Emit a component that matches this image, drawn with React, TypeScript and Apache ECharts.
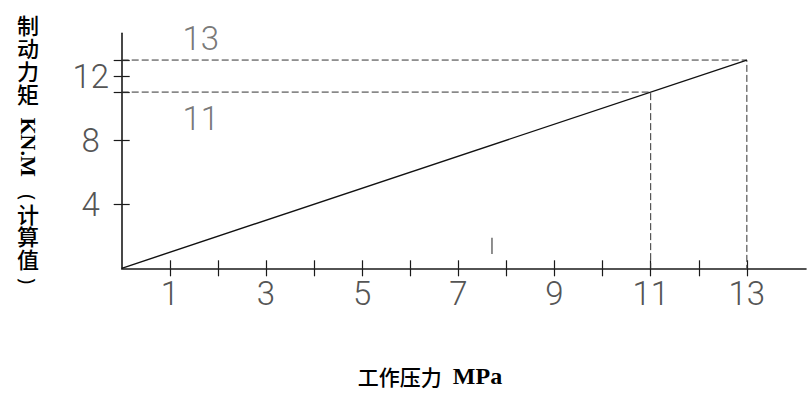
import React, { useEffect, useRef } from "react";
import * as echarts from "echarts";

// Axis tick / label positions
const xTickValues = [1, 2, 3, 4, 5, 6, 7, 8, 9, 10, 11, 12, 13];
const xLabelValues = [1, 3, 5, 7, 9, 11, 13];
const yTickValues = [4, 8, 11, 12, 13];
const yLabelValues = [4, 8, 12];

// Braking torque (KN.M) vs working pressure (MPa)
const brakeLine = [
  [0, 0],
  [13, 13],
];
// Rated working points: [pressure, torque]
const ratedPoints = [
  [13, 13],
  [11, 11],
];
// Small stand-alone mark above the pressure axis
const tickMark = [
  [7.7, 0.9],
  [7.7, 1.9],
];

const yTitleTop = ["制", "动", "力", "矩"];
const yTitleUnit = "KN.M";
const yTitleBottom = ["计", "算", "值"];
const xTitleCn = "工作压力";
const xTitleUnit = "MPa";

const X_MAX = 14.23;
const Y_MAX = 14.67;

const numFont = {
  fontFamily: "Roboto",
  fontWeight: 300 as any,
  fontSize: 33,
  color: "#555",
};

const CN_FONT = '"Noto Sans CJK SC", "Noto Sans", sans-serif';
const SERIF_FONT = '"Liberation Serif", "Times New Roman", serif';

function centeredText(x: number, y: number, style: any, rotation = 0) {
  return {
    type: "text",
    x,
    y,
    rotation,
    style: {
      fill: "#000",
      align: "center",
      verticalAlign: "middle",
      textAlign: "center",
      textVerticalAlign: "middle",
      ...style,
    },
  };
}

export default function App() {
  const ref = useRef<HTMLDivElement>(null);

  useEffect(() => {
    if (!ref.current) return;
    const chart = echarts.init(ref.current, undefined, { renderer: "svg" });

    const axisLineStyle = { color: "#1a1a1a", width: 1.6 };
    const tickStyle = { color: "#1a1a1a", width: 1.2 };

    const guideSeries = ratedPoints.map(([p, t]) => ({
      type: "line",
      data: [
        [0, t],
        [p, t],
        [p, 0],
      ],
      symbol: "none",
      silent: true,
      lineStyle: { color: "#333", width: 1, type: [7, 3] },
      z: 2,
    }));

    const titleX = 28;
    const graphics: any[] = [
      // vertical axis title, stacked top to bottom
      centeredText(titleX, 58.5, {
        text: yTitleTop.join("\n"),
        fontFamily: CN_FONT,
        fontWeight: 500,
        fontSize: 22,
        lineHeight: 23,
      }),
      centeredText(
        titleX,
        147,
        {
          text: yTitleUnit,
          fontFamily: SERIF_FONT,
          fontWeight: "bold",
          fontSize: 22,
        },
        -Math.PI / 2
      ),
      centeredText(
        titleX,
        197,
        { text: "(", fontFamily: '"Noto Sans", sans-serif', fontSize: 19 },
        -Math.PI / 2
      ),
      centeredText(titleX, 235, {
        text: yTitleBottom.join("\n"),
        fontFamily: CN_FONT,
        fontWeight: 500,
        fontSize: 22,
        lineHeight: 22.5,
      }),
      centeredText(
        titleX,
        281,
        { text: ")", fontFamily: '"Noto Sans", sans-serif', fontSize: 19 },
        -Math.PI / 2
      ),
      // horizontal axis title
      centeredText(430, 376, {
        text: `{a|${xTitleCn}}{b|${xTitleUnit}}`,
        rich: {
          a: {
            fontFamily: CN_FONT,
            fontWeight: 500,
            fontSize: 21,
            fill: "#000",
            color: "#000",
          },
          b: {
            fontFamily: SERIF_FONT,
            fontWeight: "bold",
            fontSize: 24,
            fill: "#000",
            color: "#000",
            padding: [0, 0, 0, 11],
          },
        },
      }),
    ];

    const option: any = {
      animation: false,
      backgroundColor: "#fff",
      grid: { left: 121.7, top: 33.3, width: 684.3, height: 235 },
      xAxis: [
        {
          type: "value",
          min: 0,
          max: X_MAX,
          position: "bottom",
          axisLine: { show: true, lineStyle: axisLineStyle },
          axisTick: {
            show: true,
            customValues: xTickValues,
            length: 8,
            inside: false,
            lineStyle: tickStyle,
          },
          axisLabel: {
            show: true,
            customValues: xLabelValues,
            margin: 9,
            ...numFont,
          },
          splitLine: { show: false },
        },
        {
          type: "value",
          min: 0,
          max: X_MAX,
          position: "bottom",
          offset: 0,
          axisLine: { show: false },
          axisTick: {
            show: true,
            customValues: xTickValues,
            length: 8,
            inside: true,
            lineStyle: tickStyle,
          },
          axisLabel: { show: false },
          splitLine: { show: false },
        },
      ],
      yAxis: [
        {
          type: "value",
          min: 0,
          max: Y_MAX,
          position: "left",
          axisLine: { show: true, lineStyle: axisLineStyle },
          axisTick: {
            show: true,
            customValues: yTickValues,
            length: 8,
            inside: false,
            lineStyle: tickStyle,
          },
          axisLabel: {
            show: true,
            customValues: yLabelValues,
            margin: 31,
            align: "center",
            ...numFont,
          },
          splitLine: { show: false },
        },
        {
          type: "value",
          min: 0,
          max: Y_MAX,
          position: "left",
          offset: 0,
          axisLine: { show: false },
          axisTick: {
            show: true,
            customValues: yTickValues,
            length: 8,
            inside: true,
            lineStyle: tickStyle,
          },
          axisLabel: { show: false },
          splitLine: { show: false },
        },
      ],
      series: [
        ...guideSeries,
        {
          type: "line",
          data: brakeLine,
          symbol: "none",
          silent: true,
          lineStyle: { color: "#111", width: 1.4 },
          z: 3,
        },
        {
          type: "line",
          data: tickMark,
          symbol: "none",
          silent: true,
          lineStyle: { color: "#444", width: 1.2 },
        },
        {
          type: "scatter",
          silent: true,
          symbolSize: 1,
          itemStyle: { color: "transparent" },
          data: ratedPoints.map(([, t], i) => ({
            value: [0, t],
            label: {
              show: true,
              position: "inside",
              formatter: String(t),
              offset: [79, i === 0 ? -22 : 26],
              ...numFont,
            },
          })),
          z: 4,
        },
      ],
      graphic: graphics,
    };

    chart.setOption(option);
    return () => chart.dispose();
  }, []);

  return (
    <div
      ref={ref}
      style={{ position: "fixed", left: 0, top: 0, width: 812, height: 398 }}
    />
  );
}
